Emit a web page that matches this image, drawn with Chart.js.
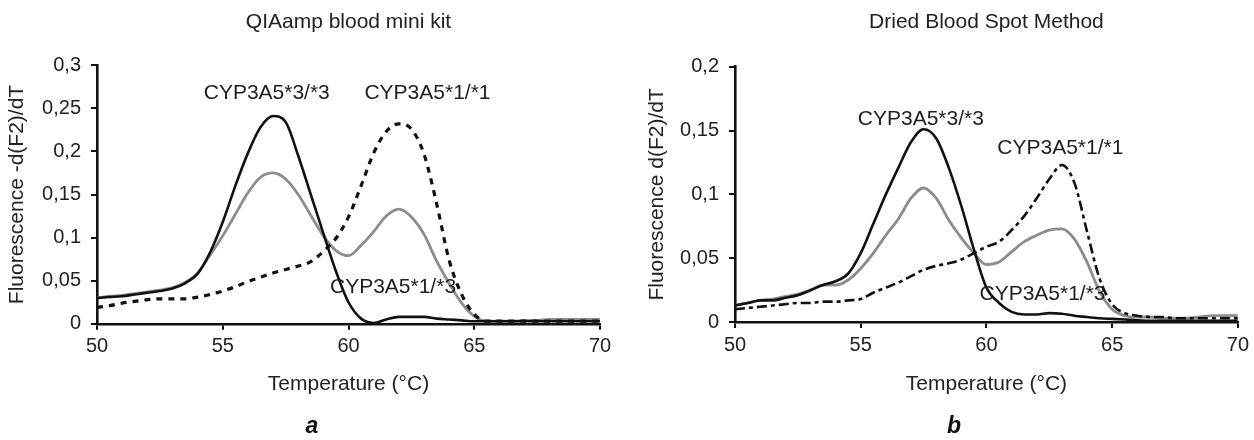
<!DOCTYPE html>
<html><head><meta charset="utf-8">
<script src="https://cdn.jsdelivr.net/npm/chart.js@4.4.1/dist/chart.umd.min.js"></script>
<style>
html,body{margin:0;padding:0;background:#fff;}
body{width:1254px;height:440px;position:relative;overflow:hidden;}
#c1{position:absolute;left:0;top:0;}
#c2{position:absolute;left:640px;top:0;}
</style></head><body>
<canvas id="c1" width="627" height="440"></canvas>
<canvas id="c2" width="614" height="440"></canvas>
<script>
// ---- data ----
const temps = [50,50.5,51,51.5,52,52.5,53,53.5,54,54.5,55,55.5,56,56.5,57,57.5,58,58.5,59,59.5,60,60.5,61,61.5,62,62.5,63,63.5,64,64.5,65,65.5,66,66.5,67,67.5,68,68.5,69,69.5,70];
const xTicks = [50,55,60,65,70];

// a: QIAamp blood mini kit
const a_33 = [0.030,0.031,0.032,0.034,0.036,0.038,0.041,0.047,0.058,0.083,0.118,0.160,0.198,0.228,0.241,0.234,0.195,0.150,0.105,0.061,0.025,0.006,0.001,0.005,0.008,0.008,0.008,0.006,0.005,0.004,0.003,0.003,0.003,0.003,0.003,0.003,0.003,0.003,0.003,0.003,0.003];
const a_13 = [0.030,0.032,0.033,0.035,0.037,0.039,0.042,0.048,0.059,0.080,0.102,0.127,0.152,0.170,0.175,0.168,0.150,0.126,0.102,0.085,0.079,0.091,0.107,0.125,0.133,0.124,0.104,0.073,0.047,0.024,0.009,0.003,0.003,0.003,0.004,0.004,0.005,0.005,0.005,0.005,0.005];
const a_11 = [0.019,0.021,0.024,0.026,0.028,0.029,0.029,0.029,0.031,0.034,0.038,0.043,0.049,0.054,0.059,0.063,0.067,0.072,0.084,0.099,0.124,0.160,0.198,0.223,0.232,0.226,0.197,0.140,0.074,0.034,0.011,0.003,0.003,0.003,0.003,0.003,0.003,0.003,0.003,0.003,0.003];
const aYTicks = [0,0.05,0.1,0.15,0.2,0.25,0.3];

// b: Dried Blood Spot Method
const b_33 = [0.013,0.015,0.017,0.017,0.019,0.021,0.025,0.029,0.032,0.038,0.054,0.077,0.100,0.121,0.141,0.151,0.144,0.121,0.091,0.057,0.027,0.015,0.008,0.006,0.006,0.007,0.0065,0.005,0.004,0.003,0.0025,0.002,0.0015,0.001,0.001,0.001,0.001,0.001,0.001,0.001,0.001];
const b_13 = [0.013,0.015,0.017,0.018,0.020,0.022,0.025,0.029,0.029,0.033,0.042,0.054,0.068,0.081,0.097,0.105,0.097,0.080,0.066,0.054,0.045,0.047,0.055,0.063,0.068,0.072,0.073,0.065,0.047,0.024,0.010,0.005,0.004,0.004,0.003,0.003,0.003,0.004,0.005,0.005,0.005];
const b_11 = [0.010,0.011,0.012,0.013,0.014,0.015,0.015,0.016,0.016,0.017,0.018,0.023,0.027,0.031,0.036,0.041,0.044,0.046,0.049,0.054,0.059,0.063,0.072,0.083,0.097,0.112,0.123,0.109,0.071,0.034,0.014,0.007,0.005,0.004,0.004,0.003,0.003,0.003,0.003,0.003,0.003];
const bYTicks = [0,0.05,0.1,0.15,0.2];

// curve labels (text, anchor in data units)
const aLabelText = ['CYP3A5*3/*3','CYP3A5*1/*1','CYP3A5*1/*3'];
const aLabelX = [56.75, 63.14, 61.77];
const aLabelY = [0.268, 0.268, 0.043];
const bLabelText = ['CYP3A5*3/*3','CYP3A5*1/*1','CYP3A5*1/*3'];
const bLabelX = [57.39, 62.94, 62.23];
const bLabelY = [0.159, 0.136, 0.022];

// ---- drawing ----
Chart.defaults.font.family = '"Liberation Sans", Arial, Helvetica, sans-serif';
Chart.defaults.color = '#222';

const curveLabels = {
  id: 'curveLabels',
  afterDatasetsDraw(chart, args, opts) {
    const {ctx, scales} = chart;
    ctx.save();
    ctx.font = '21px "Liberation Sans", Arial, sans-serif';
    ctx.fillStyle = '#1e1e1e';
    ctx.textAlign = 'center';
    ctx.textBaseline = 'middle';
    opts.text.forEach((t, i) => {
      ctx.fillText(t, scales.x.getPixelForValue(opts.xs[i]), scales.y.getPixelForValue(opts.ys[i]));
    });
    ctx.restore();
  }
};

const pts = arr => temps.map((t, i) => ({x: t, y: arr[i]}));
const fmt = v => Number(v.toFixed(2)).toString().replace('.', ',');

function makeChart(id, cfg) {
  const yTicks = cfg.yTicks;
  return new Chart(document.getElementById(id), {
    type: 'line',
    data: {
      datasets: [
        {label: 'CYP3A5*3/*3', data: pts(cfg.s33), borderColor: '#111', borderWidth: 2.6, pointRadius: 0, cubicInterpolationMode: 'monotone'},
        {label: 'CYP3A5*1/*1', data: pts(cfg.s11), borderColor: '#111', borderWidth: cfg.dashWidth, borderDash: cfg.dash, pointRadius: 0, cubicInterpolationMode: 'monotone'},
        {label: 'CYP3A5*1/*3', data: pts(cfg.s13), borderColor: '#8c8c8c', borderWidth: 2.8, pointRadius: 0, cubicInterpolationMode: 'monotone'}
      ]
    },
    options: {
      responsive: false,
      animation: false,
      devicePixelRatio: 1,
      layout: {padding: {left: cfg.padLeft, right: cfg.padRight, top: 0, bottom: 0}},
      plugins: {
        legend: {display: false},
        tooltip: {enabled: false},
        title: {display: true, text: cfg.title, fullSize: false, font: {size: 21, weight: 'normal'}, color: '#222', padding: {top: 10, bottom: cfg.titleBottom}},
        subtitle: {display: true, text: cfg.letter, position: 'bottom', font: {size: 23, weight: 'bold', style: 'italic'}, color: '#111', padding: {top: 0, bottom: 0}},
        curveLabels: {text: cfg.labelText, xs: cfg.labelX, ys: cfg.labelY}
      },
      scales: {
        x: {
          type: 'linear', min: 50, max: 70,
          afterBuildTicks: s => { s.ticks = xTicks.map(v => ({value: v})); },
          afterFit: s => { s.height = cfg.xHeight; },
          ticks: {font: {size: 20}, color: '#222', padding: 5, maxRotation: 0},
          grid: {drawOnChartArea: false, drawTicks: true, tickLength: 6, color: '#111', lineWidth: 2},
          border: {color: '#111', width: 2.6},
          title: {display: true, text: 'Temperature (°C)', font: {size: 21}, color: '#222', padding: {top: 0, bottom: 16}}
        },
        y: {
          type: 'linear', min: 0, max: yTicks[yTicks.length - 1],
          afterBuildTicks: s => { s.ticks = yTicks.map(v => ({value: v})); },
          afterFit: s => { s.width = cfg.yWidth; },
          ticks: {font: {size: 20}, color: '#222', padding: 10, callback: v => fmt(v)},
          grid: {drawOnChartArea: false, drawTicks: true, tickLength: 6, color: '#111', lineWidth: 2},
          border: {color: '#111', width: 2.6},
          title: {display: true, text: cfg.yTitle, font: {size: 21}, color: '#222', padding: {top: cfg.yTitlePad, bottom: 0}}
        }
      }
    },
    plugins: [curveLabels]
  });
}

makeChart('c1', {
  title: 'QIAamp blood mini kit', letter: 'a', yTitle: 'Fluorescence -d(F2)/dT',
  s33: a_33, s13: a_13, s11: a_11, yTicks: aYTicks,
  dash: [6, 6], dashWidth: 3.2,
  labelText: aLabelText, labelX: aLabelX, labelY: aLabelY,
  padLeft: 24, padRight: 27, yWidth: 73, yTitlePad: -19.6, xHeight: 88.6, titleBottom: 30
});
makeChart('c2', {
  title: 'Dried Blood Spot Method', letter: 'b', yTitle: 'Fluorescence d(F2)/dT',
  s33: b_33, s13: b_13, s11: b_11, yTicks: bYTicks,
  dash: [10, 4, 4, 4], dashWidth: 2.6,
  labelText: bLabelText, labelX: bLabelX, labelY: bLabelY,
  padLeft: 28, padRight: 14, yWidth: 67, yTitlePad: -23.6, xHeight: 90.3, titleBottom: 31.5
});
</script></body></html>
